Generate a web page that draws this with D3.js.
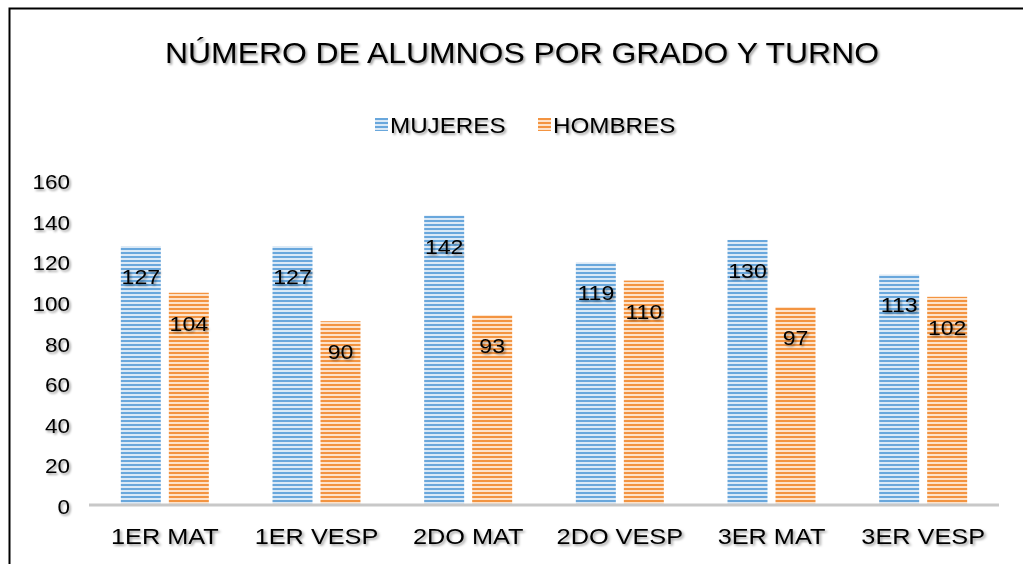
<!DOCTYPE html>
<html>
<head>
<meta charset="utf-8">
<script src="https://cdn.jsdelivr.net/npm/d3@7"></script>
<style>
  body { margin: 0; background: #fff; }
  text { font-family: "Liberation Sans", Arial, sans-serif; fill: #000; }
</style>
</head>
<body>
<div id="chart"></div>
<script>
var width = 1023,
    height = 564;

var grados = ["1ER MAT", "1ER VESP", "2DO MAT", "2DO VESP", "3ER MAT", "3ER VESP"];
var mujeres = [127, 127, 142, 119, 130, 113];
var hombres = [104, 90, 93, 110, 97, 102];
var yTicks = [0, 20, 40, 60, 80, 100, 120, 140, 160];
var series = [
  { name: "MUJERES", values: mujeres, line: "#69a7dc", light: "#dbe9f6" },
  { name: "HOMBRES", values: hombres, line: "#f39441", light: "#fde3cb" }
];

var svg = d3.select("#chart").append("svg")
    .attr("width", width)
    .attr("height", height);

var defs = svg.append("defs");

// sombra del texto
var shadow = defs.append("filter")
    .attr("id", "sombra")
    .attr("x", "-10%").attr("y", "-20%")
    .attr("width", "130%").attr("height", "150%");
shadow.append("feDropShadow")
    .attr("dx", 1.5).attr("dy", 1.8)
    .attr("stdDeviation", 1.2)
    .attr("flood-color", "#000")
    .attr("flood-opacity", 0.4);

// rayas horizontales de las barras
series.forEach(function(s, i) {
  var p = defs.append("pattern")
      .attr("id", "rayas" + i)
      .attr("patternUnits", "userSpaceOnUse")
      .attr("width", 8).attr("height", 4);
  p.append("rect").attr("width", 8).attr("height", 4).attr("fill", s.light);
  p.append("rect").attr("y", 0).attr("width", 8).attr("height", 2).attr("fill", s.line);
});

// texto algo ensanchado, como en el original
function texto(sel, x, y, size, sx, anchor) {
  return sel.append("text")
      .attr("transform", "translate(" + x + "," + y + ") scale(" + sx + ",1)")
      .attr("text-anchor", anchor || "middle")
      .attr("font-size", size)
      .attr("filter", "url(#sombra)");
}

svg.append("rect")
    .attr("x", 9.5).attr("y", 8.5)
    .attr("width", width + 10).attr("height", height + 10)
    .attr("fill", "none")
    .attr("stroke", "#000")
    .attr("stroke-width", 2);

var margin = { left: 89, right: 24, top: 179, bottom: 60 };

var x = d3.scaleBand()
    .domain(grados)
    .range([margin.left, width - margin.right]);

var y = d3.scaleLinear()
    .domain([0, 160])
    .range([height - margin.bottom, margin.top]);

var barW = 40, gap = 8;

texto(svg, 522, 63, 29, 1.1).text("NÚMERO DE ALUMNOS POR GRADO Y TURNO");

// leyenda
var legX = [375, 538];
series.forEach(function(s, i) {
  var g = svg.append("g").attr("transform", "translate(" + legX[i] + ",118)");
  g.append("rect").attr("width", 13).attr("height", 13)
      .attr("fill", "url(#rayas" + i + ")");
  texto(g, 15, 15, 22, 1.1, "start").text(s.name);
});

// eje y
yTicks.forEach(function(d) {
  texto(svg, 70, y(d) + 10, 21, 1.07, "end").text(d);
});

// barras
series.forEach(function(s, i) {
  var off = x.bandwidth() / 2 - barW - gap / 2 + i * (barW + gap);
  var g = svg.append("g");
  g.selectAll("rect")
    .data(s.values)
    .enter().append("rect")
      .attr("x", function(d, j) { return x(grados[j]) + off; })
      .attr("y", function(d) { return y(d); })
      .attr("width", barW)
      .attr("height", function(d) { return y(0) - y(d); })
      .attr("fill", "url(#rayas" + i + ")");
  s.values.forEach(function(d, j) {
    texto(g, x(grados[j]) + off + barW / 2, y(d) + 38, 21, 1.1).text(d);
  });
});

// eje x
svg.append("line")
    .attr("x1", margin.left).attr("x2", width - margin.right)
    .attr("y1", y(0) + 1).attr("y2", y(0) + 1)
    .attr("stroke", "#c8c8c8")
    .attr("stroke-width", 3);

grados.forEach(function(d) {
  texto(svg, x(d) + x.bandwidth() / 2, 544, 22, 1.15).text(d);
});
</script>
</body>
</html>
